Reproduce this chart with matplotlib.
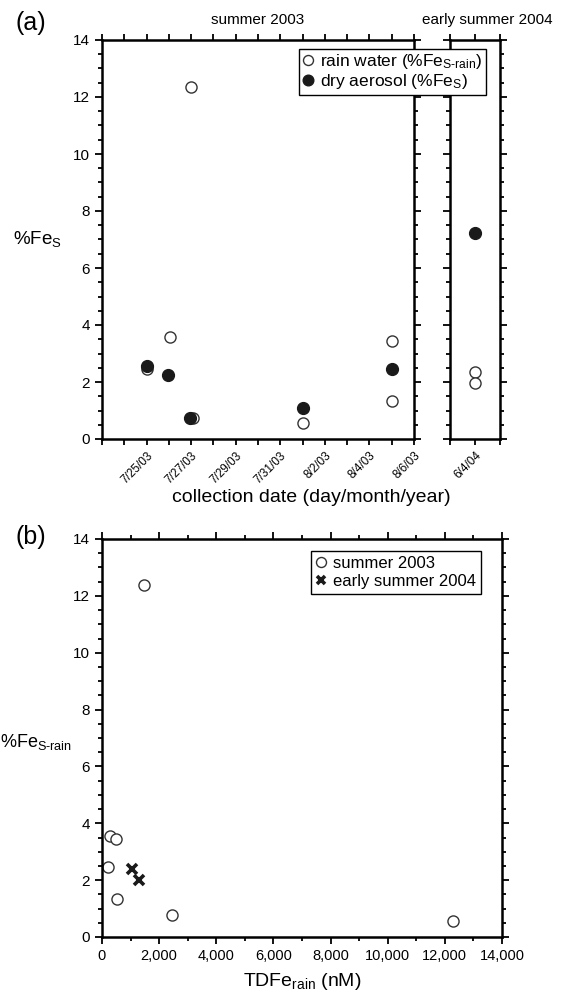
import matplotlib
matplotlib.use("Agg")
import matplotlib.pyplot as plt
import matplotlib.dates as mdates
from matplotlib.ticker import MultipleLocator, FuncFormatter, FixedLocator
import pandas as pd

plt.rcParams['font.family'] = ['Liberation Sans', 'DejaVu Sans']
plt.rcParams['mathtext.fontset'] = 'custom'
plt.rcParams['mathtext.rm'] = 'Liberation Sans'
plt.rcParams['mathtext.it'] = 'Liberation Sans'

# panel (a): %FeS against collection date
rain_dates_2003 = ['2003-07-25 00:00', '2003-07-26 01:00', '2003-07-27 01:30', '2003-07-27 00:00',
                   '2003-08-01 00:00', '2003-08-05 00:00', '2003-08-05 00:00']
rain_fes_2003 = [2.47, 3.57, 0.75, 12.35, 0.55, 3.43, 1.33]
aero_dates_2003 = ['2003-07-25 00:00', '2003-07-25 23:00', '2003-07-26 22:30',
                   '2003-08-01 00:00', '2003-08-05 00:00']
aero_fes_2003 = [2.57, 2.25, 0.75, 1.10, 2.45]
rain_dates_2004 = ['2004-06-04', '2004-06-04']
rain_fes_2004 = [2.34, 1.96]
aero_dates_2004 = ['2004-06-04']
aero_fes_2004 = [7.23]

# panel (b): %FeS-rain against TDFe rain
tdfe_2003 = [280, 478, 198, 536, 2460, 12300, 1460]
fes_rain_2003 = [3.57, 3.43, 2.46, 1.35, 0.76, 0.57, 12.38]
tdfe_2004 = [1062, 1307]
fes_rain_2004 = [2.40, 2.01]

fig = plt.figure(figsize=(5.62, 9.94), dpi=100)
ax1 = fig.add_axes([102/562, 1-439/994, 312/562, 399/994])
ax2 = fig.add_axes([450/562, 1-439/994, 50/562, 399/994])
ax3 = fig.add_axes([102/562, 1-937/994, 400/562, 398/994])

open_kw = dict(marker='o', ms=8, mfc='white', mec='#333333', mew=1.0, ls='none')
fill_kw = dict(marker='o', ms=8.5, mfc='#1a1a1a', mec='#1a1a1a', mew=1.0, ls='none')


def date_fmt(x, pos=None):
    d = mdates.num2date(x)
    return f"{d.month}/{d.day}/{d:%y}"


def style(ax):
    for s in ax.spines.values():
        s.set_linewidth(1.8)
    ax.tick_params(which='both', direction='out', width=1.3, top=True, right=True)
    ax.tick_params(which='major', length=5)
    ax.tick_params(which='minor', length=3)


for ax in (ax1, ax2):
    ax.plot(pd.to_datetime(rain_dates_2003 if ax is ax1 else rain_dates_2004),
            rain_fes_2003 if ax is ax1 else rain_fes_2004, **open_kw,
            label=r'rain water (%Fe$_{\mathrm{S‐rain}}$)')
    ax.plot(pd.to_datetime(aero_dates_2003 if ax is ax1 else aero_dates_2004),
            aero_fes_2003 if ax is ax1 else aero_fes_2004, **fill_kw,
            label=r'dry aerosol (%Fe$_{\mathrm{S}}$)')
    ax.set_ylim(0, 14)
    ax.yaxis.set_major_locator(MultipleLocator(2))
    ax.yaxis.set_minor_locator(MultipleLocator(0.5))
    style(ax)

ax1.set_xlim(pd.Timestamp('2003-07-23'), pd.Timestamp('2003-08-06'))
ax1.xaxis.set_major_locator(FixedLocator(mdates.date2num(pd.date_range('2003-07-25', '2003-08-06', freq='2D'))))
ax1.xaxis.set_minor_locator(FixedLocator(mdates.date2num(pd.date_range('2003-07-23', '2003-08-06', freq='D'))))
ax1.xaxis.set_major_formatter(FuncFormatter(date_fmt))
ax1.tick_params(axis='x', which='both', length=4)
ax1.tick_params(axis='y', labelsize=11)
for lab in ax1.get_xticklabels():
    lab.set_rotation(45)
    lab.set_ha('right')
    lab.set_rotation_mode('anchor')
    lab.set_fontsize(8.5)

ax2.set_xlim(pd.Timestamp('2004-06-03'), pd.Timestamp('2004-06-05'))
ax2.xaxis.set_major_locator(FixedLocator(mdates.date2num(pd.to_datetime(['2004-06-04']))))
ax2.xaxis.set_minor_locator(FixedLocator(mdates.date2num(pd.to_datetime(['2004-06-03', '2004-06-05']))))
ax2.xaxis.set_major_formatter(FuncFormatter(date_fmt))
ax2.tick_params(axis='x', which='both', length=4)
ax2.set_yticklabels([])
for lab in ax2.get_xticklabels():
    lab.set_rotation(45)
    lab.set_ha('right')
    lab.set_rotation_mode('anchor')
    lab.set_fontsize(8.5)

h, l = ax1.get_legend_handles_labels()
leg = fig.legend(h, l, loc='upper left', bbox_to_anchor=(299/562, 1-49/994), fontsize=12.5,
                 frameon=True, fancybox=False, framealpha=1, edgecolor='black',
                 handlelength=0.6, handletextpad=0.4, borderpad=0.2, labelspacing=0.05,
                 borderaxespad=0, markerscale=0.9)
leg.get_frame().set_linewidth(1.0)

fig.text(258/562, 1-20/994, 'summer 2003', ha='center', va='center', fontsize=11)
fig.text(487/562, 1-20/994, 'early summer 2004', ha='center', va='center', fontsize=11)
fig.text(31/562, 1-23/994, '(a)', ha='center', va='center', fontsize=18)
fig.text(37/562, 1-239/994, r'%Fe$_{\mathrm{S}}$', ha='center', va='center', fontsize=13.5)
fig.text(311/562, 1-497/994, 'collection date (day/month/year)', ha='center', va='center', fontsize=14)

# panel (b)
ax3.plot(tdfe_2003, fes_rain_2003, **open_kw, label='summer 2003')
ax3.plot(tdfe_2004, fes_rain_2004, marker='x', ms=7, mew=2.6, color='#1a1a1a', ls='none',
         label='early summer 2004')
ax3.set_xlim(0, 14000)
ax3.set_ylim(0, 14)
ax3.xaxis.set_major_locator(MultipleLocator(2000))
ax3.xaxis.set_minor_locator(MultipleLocator(1000))
ax3.xaxis.set_major_formatter(FuncFormatter(lambda x, p: f"{int(x):,}"))
ax3.yaxis.set_major_locator(MultipleLocator(2))
ax3.yaxis.set_minor_locator(MultipleLocator(0.5))
style(ax3)
ax3.tick_params(axis='y', labelsize=11)
ax3.tick_params(axis='x', labelsize=10.5)
leg3 = ax3.legend(loc='upper left', bbox_to_anchor=(311/562, 1-551/994), bbox_transform=fig.transFigure,
                  fontsize=12, frameon=True, fancybox=False, framealpha=1, edgecolor='black',
                  handlelength=0.6, handletextpad=0.4, borderpad=0.3, labelspacing=0.2,
                  borderaxespad=0, markerscale=0.9)
leg3.get_frame().set_linewidth(1.0)

fig.text(31/562, 1-537/994, '(b)', ha='center', va='center', fontsize=18)
fig.text(72/562, 1-742/994, r'%Fe$_{\mathrm{S‐rain}}$', ha='right', va='center', fontsize=13)
fig.text(302/562, 1-982/994, r'TDFe$_{\mathrm{rain}}$ (nM)', ha='center', va='center', fontsize=14)

fig.savefig('out.png', dpi=100)
